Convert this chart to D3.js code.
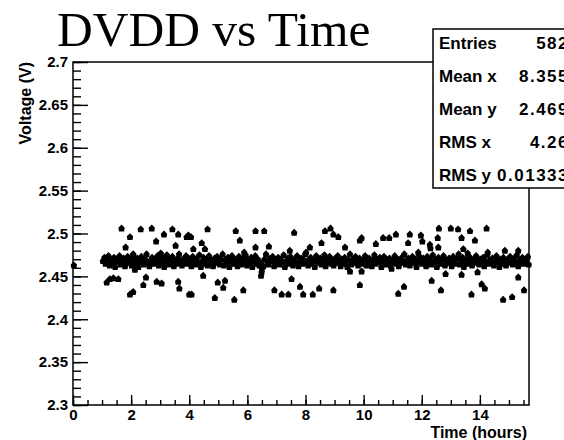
<!DOCTYPE html>
<meta charset="utf-8" />
<title>DVDD vs Time</title>
<script src="https://d3js.org/d3.v7.min.js"></script>
<style>
  body { margin: 0; background: #fff; }
  svg { display: block; }
  .tick text { font-family: "Liberation Sans", Arial, sans-serif; font-weight: bold; font-size: 15px; fill: #000; }
  .lbl { font-family: "Liberation Sans", Arial, sans-serif; font-weight: bold; }
</style>
<div id="chart"></div>
<script>
  // ticks
  var xTickLabels = [0, 2, 4, 6, 8, 10, 12, 14];
  var yTickLabels = [2.3, 2.35, 2.4, 2.45, 2.5, 2.55, 2.6, 2.65, 2.7];

  // stats box
  var statNames = ["Entries", "Mean x", "Mean y", "RMS x", "RMS y"];
  var statValues = ["582", "8.355", "2.469", "4.26", "0.01333"];

  // readings: the dense band around 2.47 V, [hours, volts]
  var bandPoints = [
    [1.03,2.468],[1.08,2.472],[1.12,2.465],[1.17,2.470],[1.22,2.474],[1.26,2.463],[1.31,2.469],[1.36,2.466],[1.41,2.472],[1.45,2.461],[1.50,2.470],[1.55,2.467],[1.60,2.474],[1.64,2.464],[1.69,2.469],[1.74,2.471],[1.79,2.462],[1.83,2.467],[1.88,2.473],[1.93,2.466],[1.97,2.470],
    [2.02,2.463],[2.07,2.475],[2.11,2.468],[2.16,2.465],[2.21,2.471],[2.25,2.461],[2.30,2.467],[2.35,2.473],[2.39,2.469],[2.44,2.464],[2.49,2.470],[2.53,2.476],[2.58,2.466],[2.63,2.462],[2.67,2.468],[2.72,2.472],[2.77,2.465],[2.81,2.470],[2.86,2.467],[2.91,2.474],[2.95,2.463],
    [3.00,2.469],[3.05,2.466],[3.09,2.472],[3.14,2.461],[3.19,2.468],[3.23,2.475],[3.28,2.464],[3.33,2.470],[3.37,2.467],[3.42,2.473],[3.47,2.462],[3.51,2.469],[3.56,2.465],[3.61,2.471],[3.65,2.476],[3.70,2.466],[3.75,2.463],[3.79,2.470],[3.84,2.468],[3.89,2.474],[3.93,2.465],[3.98,2.471],
    [4.03,2.467],[4.07,2.462],[4.12,2.473],[4.17,2.469],[4.21,2.464],[4.26,2.471],[4.31,2.466],[4.35,2.475],[4.40,2.461],[4.45,2.468],[4.49,2.472],[4.54,2.465],[4.59,2.470],[4.63,2.463],[4.68,2.474],[4.73,2.467],[4.77,2.469],[4.82,2.462],[4.87,2.471],[4.91,2.466],[4.96,2.473],
    [5.01,2.468],[5.05,2.464],[5.10,2.470],[5.15,2.476],[5.19,2.463],[5.24,2.469],[5.29,2.466],[5.33,2.472],[5.38,2.461],[5.43,2.468],[5.47,2.474],[5.52,2.465],[5.57,2.470],[5.61,2.467],[5.66,2.462],[5.71,2.473],[5.75,2.469],[5.80,2.464],[5.85,2.471],[5.89,2.466],[5.94,2.475],[5.99,2.463],
    [6.03,2.469],[6.08,2.467],[6.13,2.472],[6.17,2.461],[6.22,2.468],[6.27,2.474],[6.31,2.465],[6.36,2.470],[6.41,2.463],[6.45,2.466],[6.50,2.459],[6.55,2.462],[6.59,2.470],[6.64,2.476],[6.69,2.467],[6.73,2.464],[6.78,2.471],[6.83,2.468],[6.87,2.473],[6.92,2.462],[6.97,2.469],
    [7.01,2.466],[7.06,2.472],[7.11,2.464],[7.15,2.470],[7.20,2.467],[7.25,2.475],[7.29,2.461],[7.34,2.468],[7.39,2.471],[7.43,2.465],[7.48,2.473],[7.53,2.469],[7.57,2.463],[7.62,2.470],[7.67,2.466],[7.71,2.474],[7.76,2.462],[7.81,2.468],[7.85,2.471],[7.90,2.465],[7.95,2.469],[7.99,2.476],
    [8.04,2.467],[8.09,2.463],[8.13,2.470],[8.18,2.472],[8.23,2.465],[8.27,2.468],[8.32,2.461],[8.37,2.474],[8.41,2.469],[8.46,2.466],[8.51,2.471],[8.55,2.464],[8.60,2.468],[8.65,2.475],[8.69,2.462],[8.74,2.470],[8.79,2.467],[8.83,2.473],[8.88,2.465],[8.93,2.469],[8.97,2.463],
    [9.02,2.471],[9.07,2.466],[9.11,2.474],[9.16,2.468],[9.21,2.462],[9.25,2.470],[9.30,2.465],[9.35,2.472],[9.39,2.467],[9.44,2.461],[9.49,2.469],[9.53,2.476],[9.58,2.464],[9.63,2.470],[9.67,2.466],[9.72,2.473],[9.77,2.468],[9.81,2.463],[9.86,2.471],[9.91,2.467],[9.95,2.465],
    [10.00,2.470],[10.05,2.474],[10.09,2.463],[10.14,2.468],[10.19,2.471],[10.23,2.466],[10.28,2.462],[10.33,2.469],[10.37,2.475],[10.42,2.465],[10.47,2.470],[10.51,2.467],[10.56,2.472],[10.61,2.461],[10.65,2.468],[10.70,2.473],[10.75,2.464],[10.79,2.470],[10.84,2.466],[10.89,2.471],[10.93,2.463],[10.98,2.469],
    [11.03,2.467],[11.07,2.474],[11.12,2.465],[11.17,2.470],[11.21,2.462],[11.26,2.468],[11.31,2.472],[11.35,2.466],[11.40,2.476],[11.45,2.464],[11.49,2.469],[11.54,2.471],[11.59,2.463],[11.63,2.468],[11.68,2.473],[11.73,2.466],[11.77,2.470],[11.82,2.461],[11.87,2.467],[11.91,2.474],[11.96,2.469],
    [12.01,2.465],[12.05,2.471],[12.10,2.468],[12.15,2.462],[12.19,2.473],[12.24,2.467],[12.29,2.470],[12.33,2.464],[12.38,2.475],[12.43,2.466],[12.47,2.469],[12.52,2.461],[12.57,2.472],[12.61,2.468],[12.66,2.465],[12.71,2.470],[12.75,2.474],[12.80,2.463],[12.85,2.469],[12.89,2.466],[12.94,2.471],
    [12.99,2.467],[13.03,2.462],[13.08,2.473],[13.13,2.469],[13.17,2.465],[13.22,2.471],[13.27,2.476],[13.31,2.464],[13.36,2.468],[13.41,2.472],[13.45,2.461],[13.50,2.467],[13.55,2.470],[13.59,2.465],[13.64,2.473],[13.69,2.468],[13.73,2.463],[13.78,2.470],[13.83,2.466],[13.87,2.474],[13.92,2.469],[13.97,2.464],
    [14.01,2.470],[14.06,2.467],[14.11,2.472],[14.15,2.462],[14.20,2.468],[14.25,2.475],[14.29,2.465],[14.34,2.469],[14.39,2.466],[14.43,2.471],[14.48,2.463],[14.53,2.468],[14.57,2.474],[14.62,2.467],[14.67,2.461],[14.71,2.470],[14.76,2.465],[14.81,2.472],[14.85,2.468],[14.90,2.463],[14.95,2.470],
    [14.99,2.466],[15.04,2.473],[15.09,2.468],[15.13,2.464],[15.18,2.471],[15.23,2.467],[15.27,2.475],[15.32,2.462],[15.37,2.469],[15.41,2.466],[15.46,2.472],[15.51,2.465],[15.55,2.470],[15.60,2.467],[15.65,2.473],[15.68,2.464]
  ];

  // readings above the band
  var highPoints = [
    [1.67,2.506],[2.33,2.505],[2.71,2.506],[3.42,2.505],[1.96,2.496],[3.13,2.499],[3.62,2.499],[3.91,2.496],[2.86,2.491],[1.81,2.484],[3.53,2.486],[3.02,2.477],[2.07,2.476],
    [4.63,2.505],[5.60,2.503],[6.28,2.503],[6.58,2.503],[7.61,2.501],[3.97,2.498],[4.06,2.496],[4.43,2.489],[5.74,2.492],[4.14,2.482],[4.54,2.482],[6.28,2.484],[6.74,2.485],[5.89,2.478],[7.46,2.480],
    [8.86,2.506],[8.67,2.503],[8.96,2.499],[9.13,2.496],[9.93,2.495],[9.87,2.492],[10.67,2.495],[10.88,2.495],[11.11,2.499],[11.59,2.499],[11.53,2.489],[10.42,2.488],[8.55,2.489],[8.15,2.484],[8.02,2.478],[9.36,2.484],
    [12.59,2.506],[13.00,2.506],[13.25,2.505],[13.66,2.503],[14.23,2.506],[11.97,2.498],[12.02,2.491],[12.55,2.495],[13.37,2.495],[13.83,2.492],[12.28,2.487],[12.57,2.484],[12.30,2.483],[13.43,2.482],[11.88,2.478],[13.58,2.477],[14.27,2.478],[14.86,2.480],[15.32,2.480]
  ];

  // readings below the band
  var lowPoints = [
    [0.03,2.463],[2.13,2.458],[1.16,2.443],[1.27,2.447],[1.39,2.448],[1.56,2.447],[2.51,2.449],[2.88,2.444],[3.05,2.442],[3.62,2.444],[3.66,2.436],[2.42,2.440],[1.96,2.429],[2.07,2.432],[4.00,2.429],
    [4.48,2.451],[4.98,2.443],[5.23,2.445],[5.17,2.437],[6.47,2.451],[7.52,2.447],[7.81,2.438],[4.08,2.429],[4.88,2.425],[5.55,2.423],[5.86,2.434],[6.93,2.434],[7.18,2.429],[7.41,2.429],[7.92,2.429],[6.49,2.455],
    [9.53,2.456],[9.93,2.456],[10.96,2.459],[8.25,2.429],[8.47,2.436],[8.96,2.434],[9.87,2.440],[11.19,2.430],[11.39,2.438],
    [12.82,2.453],[13.37,2.452],[13.92,2.455],[12.34,2.445],[14.06,2.441],[14.17,2.436],[15.32,2.449],[12.66,2.434],[13.71,2.429],[14.80,2.423],[15.11,2.426],[15.52,2.434]
  ];

  var width = 564, height = 440;
  // frame edges (note: "top" is reserved on window, so use m* names)
  var mLeft = 73, mRight = 529, mTop = 62, mBottom = 405;

  var svg = d3.select("#chart").append("svg")
    .attr("width", width)
    .attr("height", height);

  var x = d3.scaleLinear().domain([0, 15.69]).range([mLeft, mRight]);
  var y = d3.scaleLinear().domain([2.3, 2.7]).range([mBottom, mTop]);

  // minor ticks first, then major (ticks point into the frame like ROOT)
  svg.append("g")
    .attr("transform", "translate(" + mLeft + ",0)")
    .call(d3.axisLeft(y).tickValues(d3.range(2.3, 2.7001, 0.01)).tickSize(-8).tickFormat(""))
    .call(g => g.select(".domain").remove());
  svg.append("g")
    .attr("transform", "translate(" + mLeft + ",0)")
    .call(d3.axisLeft(y).tickValues(yTickLabels).tickSize(-15).tickPadding(5)
      .tickFormat(d => String(+d.toFixed(2))))
    .call(g => g.select(".domain").remove());

  svg.append("g")
    .attr("transform", "translate(0," + mBottom + ")")
    .call(d3.axisBottom(x).tickValues(d3.range(0, 15.6, 0.5)).tickSize(-5).tickFormat(""))
    .call(g => g.select(".domain").remove());
  svg.append("g")
    .attr("transform", "translate(0," + mBottom + ")")
    .call(d3.axisBottom(x).tickValues(xTickLabels).tickSize(-10).tickPadding(4))
    .call(g => g.select(".domain").remove());

  svg.selectAll(".tick line").attr("stroke", "#000").attr("stroke-width", 1.4);

  // frame
  svg.append("rect")
    .attr("x", mLeft).attr("y", mTop)
    .attr("width", mRight - mLeft).attr("height", mBottom - mTop)
    .attr("fill", "none").attr("stroke", "#000").attr("stroke-width", 1.5);

  // markers
  var marker = {
    draw: function (ctx, size) {
      var r = Math.sqrt(size) / 2;
      ctx.moveTo(0, -r * 1.2);
      ctx.lineTo(r, -r * 0.2);
      ctx.lineTo(r * 0.8, r);
      ctx.lineTo(-r * 0.8, r);
      ctx.lineTo(-r, -r * 0.2);
      ctx.closePath();
    }
  };
  var sym = d3.symbol().type(marker).size(40);

  svg.append("g").selectAll("path")
    .data(bandPoints.concat(highPoints, lowPoints))
    .join("path")
    .attr("d", sym)
    .attr("transform", d => "translate(" + x(d[0]) + "," + y(d[1]) + ")")
    .attr("fill", "#000");

  // title
  svg.append("text")
    .attr("x", 57).attr("y", 46)
    .attr("font-family", "'Liberation Serif', 'Times New Roman', serif")
    .attr("font-size", 49.5)
    .text("DVDD vs Time");

  // axis titles
  svg.append("text")
    .attr("class", "lbl")
    .attr("font-size", 16)
    .attr("text-anchor", "end")
    .attr("x", 527).attr("y", 438)
    .text("Time (hours)");

  svg.append("text")
    .attr("class", "lbl")
    .attr("font-size", 16)
    .attr("text-anchor", "end")
    .attr("transform", "translate(31," + mTop + ") rotate(-90)")
    .text("Voltage (V)");

  // stats box
  var box = svg.append("g");
  box.append("rect")
    .attr("x", 433).attr("y", 29)
    .attr("width", 150).attr("height", 159)
    .attr("fill", "#fff").attr("stroke", "#000").attr("stroke-width", 1.5);

  box.selectAll("text.name")
    .data(statNames)
    .join("text")
    .attr("class", "lbl name")
    .attr("font-size", 17)
    .attr("x", 439)
    .attr("y", (d, i) => 49 + i * 33)
    .text(d => d);

  box.selectAll("text.val")
    .data(statValues)
    .join("text")
    .attr("class", "lbl val")
    .attr("font-size", 17)
    .attr("letter-spacing", 1.5)
    .attr("text-anchor", "end")
    .attr("x", 569)
    .attr("y", (d, i) => 49 + i * 33)
    .text(d => d);
</script>
